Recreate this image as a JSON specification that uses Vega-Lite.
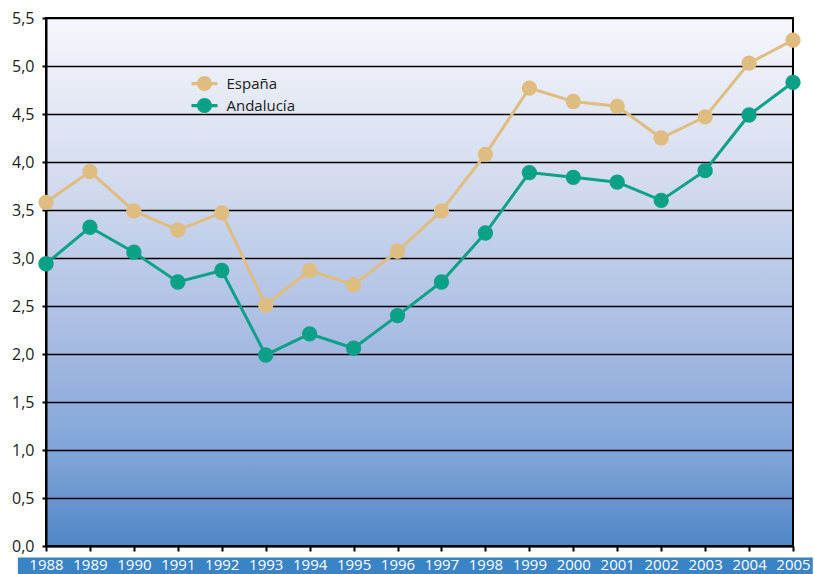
{
  "$schema": "https://vega.github.io/schema/vega-lite/v6.json",
  "width": 747,
  "height": 528,
  "autosize": {"type": "none"},
  "padding": {"left": 46, "top": 18, "right": 21, "bottom": 28},
  "background": "white",
  "config": {
    "font": "Open Sans",
    "view": {
      "stroke": "black",
      "strokeWidth": 2,
      "fill": {
        "gradient": "linear", "x1": 0, "y1": 0, "x2": 0, "y2": 1,
        "stops": [
          {"offset": 0, "color": "#f6f7fc"},
          {"offset": 0.3, "color": "#d4dcef"},
          {"offset": 0.6, "color": "#a9bde3"},
          {"offset": 0.85, "color": "#7aa1d6"},
          {"offset": 1, "color": "#4f86c7"}
        ]
      }
    }
  },
  "datasets": {
    "series": [
      {"year": 1988, "region": "España", "value": 3.58},
      {"year": 1989, "region": "España", "value": 3.90},
      {"year": 1990, "region": "España", "value": 3.49},
      {"year": 1991, "region": "España", "value": 3.29},
      {"year": 1992, "region": "España", "value": 3.47},
      {"year": 1993, "region": "España", "value": 2.51},
      {"year": 1994, "region": "España", "value": 2.87},
      {"year": 1995, "region": "España", "value": 2.72},
      {"year": 1996, "region": "España", "value": 3.07},
      {"year": 1997, "region": "España", "value": 3.49},
      {"year": 1998, "region": "España", "value": 4.08},
      {"year": 1999, "region": "España", "value": 4.77},
      {"year": 2000, "region": "España", "value": 4.63},
      {"year": 2001, "region": "España", "value": 4.58},
      {"year": 2002, "region": "España", "value": 4.25},
      {"year": 2003, "region": "España", "value": 4.47},
      {"year": 2004, "region": "España", "value": 5.03},
      {"year": 2005, "region": "España", "value": 5.27},
      {"year": 1988, "region": "Andalucía", "value": 2.94},
      {"year": 1989, "region": "Andalucía", "value": 3.32},
      {"year": 1990, "region": "Andalucía", "value": 3.06},
      {"year": 1991, "region": "Andalucía", "value": 2.75},
      {"year": 1992, "region": "Andalucía", "value": 2.87},
      {"year": 1993, "region": "Andalucía", "value": 1.99},
      {"year": 1994, "region": "Andalucía", "value": 2.21},
      {"year": 1995, "region": "Andalucía", "value": 2.06},
      {"year": 1996, "region": "Andalucía", "value": 2.40},
      {"year": 1997, "region": "Andalucía", "value": 2.75},
      {"year": 1998, "region": "Andalucía", "value": 3.26},
      {"year": 1999, "region": "Andalucía", "value": 3.89},
      {"year": 2000, "region": "Andalucía", "value": 3.84},
      {"year": 2001, "region": "Andalucía", "value": 3.79},
      {"year": 2002, "region": "Andalucía", "value": 3.60},
      {"year": 2003, "region": "Andalucía", "value": 3.91},
      {"year": 2004, "region": "Andalucía", "value": 4.49},
      {"year": 2005, "region": "Andalucía", "value": 4.83}
    ]
  },
  "data": {"name": "series"},
  "layer": [
    {
      "data": {"values": [{}]},
      "mark": {"type": "rect", "fill": "#3a84c6", "clip": false},
      "encoding": {
        "x": {"datum": 1987.36, "type": "quantitative"},
        "x2": {"datum": 2005.45},
        "y": {"datum": -0.12, "type": "quantitative"},
        "y2": {"datum": -0.4}
      }
    },
    {
      "mark": {"type": "line", "strokeWidth": 3},
      "encoding": {
        "x": {
          "field": "year", "type": "quantitative",
          "scale": {"domain": [1988, 2005], "nice": false, "zero": false},
          "axis": {
            "title": null,
            "zindex": 1,
            "values": [1988,1989,1990,1991,1992,1993,1994,1995,1996,1997,1998,1999,2000,2001,2002,2003,2004,2005],
            "format": "d",
            "grid": false,
            "domain": true, "domainColor": "black", "domainWidth": 2,
            "ticks": true, "tickColor": "black", "tickSize": 5, "tickWidth": 2,
            "labelColor": "white", "labelFontSize": 15, "labelPadding": 6,
            "labelFlush": false, "labelOverlap": false
          }
        },
        "y": {
          "field": "value", "type": "quantitative",
          "scale": {"domain": [0, 5.5], "nice": false},
          "axis": {
            "title": null,
            "values": [0, 0.5, 1, 1.5, 2, 2.5, 3, 3.5, 4, 4.5, 5, 5.5],
            "labelExpr": "replace(format(datum.value, '.1f'), '.', ',')",
            "grid": true, "gridColor": "black", "gridWidth": 1.6, "gridOpacity": 1,
            "domain": true, "domainColor": "black", "domainWidth": 2,
            "ticks": true, "tickColor": "black", "tickSize": 4, "tickWidth": 2,
            "labelColor": "#222222", "labelFontSize": 16, "labelPadding": 8
          }
        },
        "color": {
          "field": "region", "type": "nominal",
          "scale": {"domain": ["España", "Andalucía"], "range": ["#dfbd80", "#0ba088"]},
          "legend": {
            "title": null,
            "orient": "none",
            "legendX": 151,
            "legendY": 58,
            "symbolType": "M-2,-0.25H-1V0.25H-2Z M1,-0.25H2V0.25H1Z M-1.15,0A1.15,1.15 0 1,1 1.15,0A1.15,1.15 0 1,1 -1.15,0Z",
            "symbolSize": 169,
            "symbolStrokeWidth": 0,
            "symbolOpacity": 1,
            "labelFontSize": 15,
            "labelColor": "#1a1a1a",
            "labelOffset": 14.5,
            "rowPadding": 6,
            "encode": {
              "symbols": {
                "update": {
                  "fill": {"scale": "color", "field": "value"},
                  "stroke": {"value": "transparent"},
                  "strokeWidth": {"value": 0},
                  "opacity": {"value": 1}
                }
              }
            }
          }
        }
      }
    },
    {
      "mark": {"type": "point", "filled": true, "opacity": 1, "size": 235},
      "encoding": {
        "x": {"field": "year", "type": "quantitative"},
        "y": {"field": "value", "type": "quantitative"},
        "color": {
          "field": "region", "type": "nominal",
          "legend": {
            "title": null,
            "orient": "none",
            "legendX": 151,
            "legendY": 58,
            "symbolType": "M-2,-0.25H-1V0.25H-2Z M1,-0.25H2V0.25H1Z M-1.15,0A1.15,1.15 0 1,1 1.15,0A1.15,1.15 0 1,1 -1.15,0Z",
            "symbolSize": 169,
            "symbolStrokeWidth": 0,
            "symbolOpacity": 1,
            "labelFontSize": 15,
            "labelColor": "#1a1a1a",
            "labelOffset": 14.5,
            "rowPadding": 6,
            "encode": {
              "symbols": {
                "update": {
                  "fill": {"scale": "color", "field": "value"},
                  "stroke": {"value": "transparent"},
                  "strokeWidth": {"value": 0},
                  "opacity": {"value": 1}
                }
              }
            }
          }
        }
      }
    }
  ]
}
